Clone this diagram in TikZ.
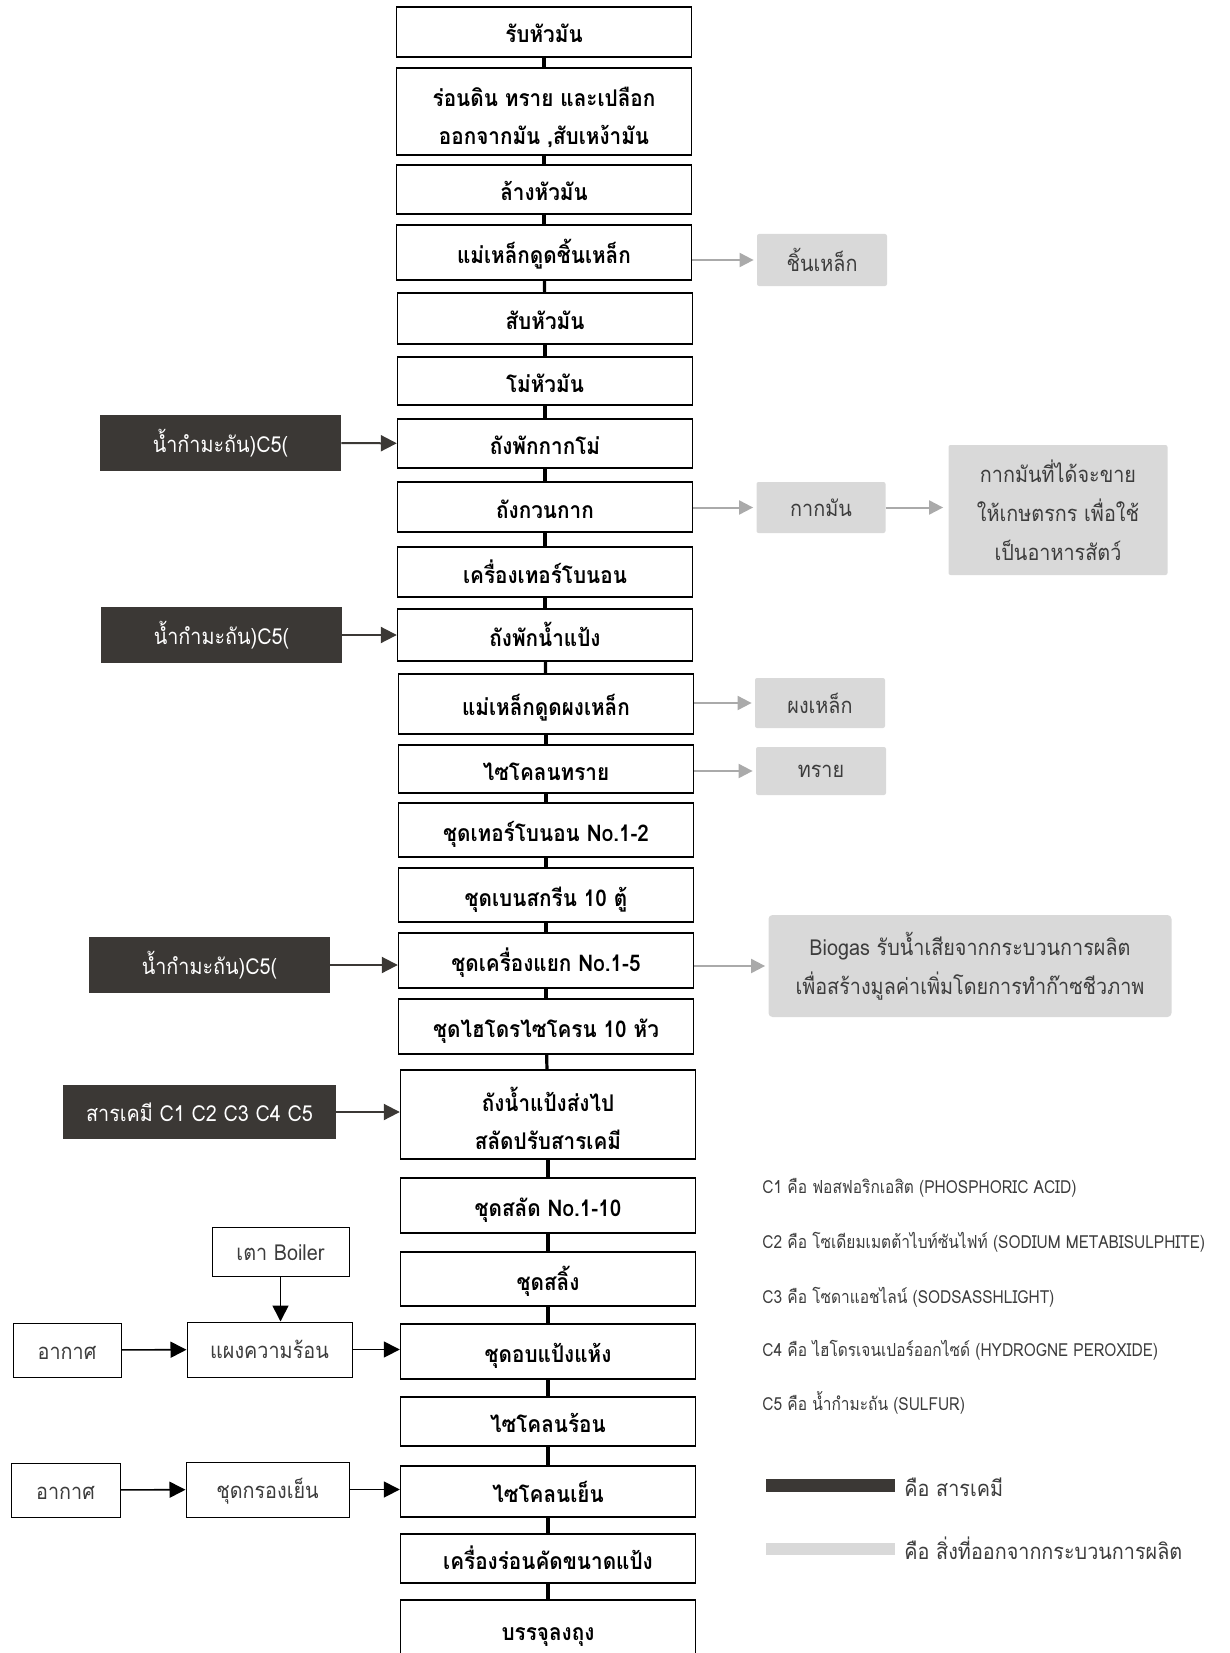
\documentclass[tikz,border=0pt]{standalone}
\usepackage{fontspec}
\setmainfont[Script=Thai, FakeStretch=0.9]{Loma}
\newfontfamily\notefont[Script=Thai, FakeStretch=0.86]{Loma}
\usetikzlibrary{arrows.meta}
\definecolor{chemgray}{RGB}{59,56,53}
\definecolor{outgray}{RGB}{217,217,217}
\definecolor{arrowgray}{RGB}{170,170,170}
\definecolor{textgray}{RGB}{60,60,60}
\tikzset{
  stepbox/.style={draw=black, line width=0.7pt, fill=white, minimum width=147.5pt,
    align=center, inner sep=0pt, text height=14pt, text depth=3pt,
    font=\bfseries\fontsize{11.5}{19}\selectfont},
  twostep/.style={stepbox, text height=, text depth=},
  chembox/.style={fill=chemgray, text=white, align=center, inner sep=0pt,
    text height=12pt, text depth=3pt, font=\fontsize{11}{19}\selectfont},
  outbox/.style={fill=outgray, text=textgray, align=center, inner sep=0pt,
    rounded corners=1pt, font=\fontsize{11}{19.5}\selectfont},
  sidebox/.style={draw=black, line width=0.5pt, fill=white, align=center, inner sep=0pt,
    text height=12pt, text depth=3pt, text=textgray, font=\fontsize{11}{19}\selectfont},
  mainline/.style={line width=1.6pt},
  chemarrow/.style={-{Triangle[length=8pt,width=8pt]}, draw=chemgray, fill=chemgray, line width=1pt},
  outarrow/.style={-{Triangle[length=7pt,width=7pt]}, draw=arrowgray, fill=arrowgray, line width=1pt},
  airarrow/.style={-{Triangle[length=8pt,width=8pt]}, line width=0.8pt},
  notetext/.style={anchor=west, inner sep=0pt, text=textgray, font=\notefont\fontsize{9}{12}\selectfont},
}
\begin{document}
\begin{tikzpicture}[x=0.5pt, y=-0.5pt]
\useasboundingbox (0,0) rectangle (1230,1653);

\node[stepbox, minimum height=25pt] (rcv) at (544,32) {รับหัวมัน};
\node[twostep, minimum height=43.5pt] (sieve) at (544,111.5) {\rule{0pt}{16pt}ร่อนดิน ทราย และเปลือก\\ออกจากมัน ,สับเหง้ามัน};
\node[stepbox, minimum height=24.5pt] (wash) at (544,189.5) {ล้างหัวมัน};
\node[stepbox, minimum height=27.5pt] (magA) at (544,252.5) {แม่เหล็กดูดชิ้นเหล็ก};
\node[stepbox, minimum height=25.5pt] (chop) at (545,318.5) {สับหัวมัน};
\node[stepbox, minimum height=24pt] (mill) at (545,381) {โม่หัวมัน};
\node[stepbox, minimum height=24.5pt] (tankA) at (545,443.5) {ถังพักกากโม่};
\node[stepbox, minimum height=25pt] (stir) at (545,507) {ถังกวนกาก};
\node[stepbox, minimum height=25pt] (turbo) at (545,572) {เครื่องเทอร์โบนอน};
\node[stepbox, minimum height=26pt] (tankB) at (545,635) {ถังพักน้ำแป้ง};
\node[stepbox, minimum height=30pt] (magB) at (546,704) {แม่เหล็กดูดผงเหล็ก};
\node[stepbox, minimum height=24pt] (cycA) at (546,769) {ไซโคลนทราย};
\node[stepbox, minimum height=27pt] (turboset) at (546,830) {ชุดเทอร์โบนอน No.1-2};
\node[stepbox, minimum height=27pt] (screen) at (546,895) {ชุดเบนสกรีน 10 ตู้};
\node[stepbox, minimum height=27.5pt] (sep) at (546,960.5) {ชุดเครื่องแยก No.1-5};
\node[stepbox, minimum height=27.5pt] (hydro) at (546,1026.5) {ชุดไฮโดรไซโครน 10 หัว};
\node[twostep, minimum height=44.5pt] (tankC) at (548,1114.5) {\rule{0pt}{16pt}ถังน้ำแป้งส่งไป\\สลัดปรับสารเคมี};
\node[stepbox, minimum height=27.5pt] (spin) at (548,1205.5) {ชุดสลัด No.1-10};
\node[stepbox, minimum height=27pt] (sling) at (548,1279) {ชุดสลิ้ง};
\node[stepbox, minimum height=27.5pt] (dry) at (548,1351.5) {ชุดอบแป้งแห้ง};
\node[stepbox, minimum height=24.5pt] (cycB) at (548,1421.5) {ไซโคลนร้อน};
\node[stepbox, minimum height=25.5pt] (cycC) at (548,1491.5) {ไซโคลนเย็น};
\node[stepbox, minimum height=24.5pt] (grade) at (548,1558.5) {เครื่องร่อนคัดขนาดแป้ง};
\node[stepbox, minimum height=29pt] (pack) at (548,1629) {บรรจุลงถุง};

\foreach \a/\b in {rcv/sieve, sieve/wash, wash/magA, magA/chop, chop/mill, mill/tankA,
  tankA/stir, stir/turbo, turbo/tankB, tankB/magB, magB/cycA, cycA/turboset,
  turboset/screen, screen/sep, sep/hydro, hydro/tankC, tankC/spin, spin/sling,
  sling/dry, dry/cycB, cycB/cycC, cycC/grade, grade/pack}
  \draw[mainline] (\a) -- (\b);

\node[chembox, minimum width=120.5pt, minimum height=28pt] (sulfA) at (220.5,443) {น้ำกำมะถัน)C5(};
\node[chembox, minimum width=120.5pt, minimum height=28pt] (sulfB) at (221.5,635) {น้ำกำมะถัน)C5(};
\node[chembox, minimum width=120.5pt, minimum height=28pt] (sulfC) at (209.5,965) {น้ำกำมะถัน)C5(};
\node[chembox, minimum width=136.5pt, minimum height=27pt] (chem) at (199.5,1112) {สารเคมี C1 C2 C3 C4 C5};
\draw[chemarrow] (sulfA) -- (tankA);
\draw[chemarrow] (sulfB) -- (tankB);
\draw[chemarrow] (sulfC.east) -- (sulfC.east -| sep.west);
\draw[chemarrow] (chem) -- (chem -| tankC.west);

\node[outbox, minimum width=65pt, minimum height=26pt] (ironA) at (822,260) {ชิ้นเหล็ก};
\node[outbox, minimum width=64.5pt, minimum height=25.5pt] (pulp) at (821,507.5) {กากมัน};
\node[outbox, minimum width=109.5pt, minimum height=65pt] (feed) at (1058,510) {กากมันที่ได้จะขาย\\ให้เกษตรกร เพื่อใช้\\เป็นอาหารสัตว์};
\node[outbox, minimum width=65pt, minimum height=25pt] (ironB) at (820,703) {ผงเหล็ก};
\node[outbox, minimum width=65pt, minimum height=24pt] (sand) at (821,771) {ทราย};
\node[outbox, minimum width=201.5pt, minimum height=51pt, rounded corners=2pt] (biogas) at (970,966) {Biogas รับน้ำเสียจากกระบวนการผลิต\\เพื่อสร้างมูลค่าเพิ่มโดยการทำก๊าซชีวภาพ};
\draw[outarrow, shorten >=1.5pt] (magA.east |- ironA) -- (ironA);
\draw[outarrow, shorten >=1.5pt] (stir.east |- pulp) -- (pulp);
\draw[outarrow, shorten >=2.5pt] (pulp) -- (pulp -| feed.west);
\draw[outarrow, shorten >=1.5pt] (magB.east |- ironB) -- (ironB);
\draw[outarrow, shorten >=1.5pt] (cycA.east |- sand) -- (sand);
\draw[outarrow, shorten >=1.5pt] (sep.east |- biogas) -- (biogas);

\node[sidebox, minimum width=68.5pt, minimum height=24.5pt] (boiler) at (280.5,1251.5) {เตา Boiler};
\node[sidebox, minimum width=54pt, minimum height=27pt] (airA) at (67,1350) {อากาศ};
\node[sidebox, minimum width=82.5pt, minimum height=27.5pt] (heat) at (269.5,1349.5) {แผงความร้อน};
\node[sidebox, minimum width=54.5pt, minimum height=27pt] (airB) at (65.5,1490) {อากาศ};
\node[sidebox, minimum width=81.5pt, minimum height=27.5pt] (cool) at (267.5,1489.5) {ชุดกรองเย็น};
\draw[airarrow] (boiler.south) -- (boiler.south |- heat.north);
\draw[airarrow] (airA) -- (heat);
\draw[airarrow] (heat) -- (heat -| dry.west);
\draw[airarrow] (airB) -- (cool);
\draw[airarrow] (cool) -- (cool -| cycC.west);

\node[notetext] (noteA) at (762,1188) {C1 คือ ฟอสฟอริกเอสิต (PHOSPHORIC ACID)};
\node[notetext] (noteB) at (762,1242) {C2 คือ โซเดียมเมตต้าไบท์ซันไฟท์ (SODIUM METABISULPHITE)};
\node[notetext] (noteC) at (762,1297) {C3 คือ โซดาแอชไลน์ (SODSASSHLIGHT)};
\node[notetext] (noteD) at (762,1350) {C4 คือ ไฮโดรเจนเปอร์ออกไซด์ (HYDROGNE PEROXIDE)};
\node[notetext] (noteE) at (762,1403) {C5 คือ น้ำกำมะถัน (SULFUR)};

\fill[chemgray] (766,1479) rectangle (895,1492);
\fill[outgray] (766,1543) rectangle (895,1555);
\node[notetext, font=\fontsize{11}{13}\selectfont] (keyA) at (904,1487) {คือ สารเคมี};
\node[notetext, font=\fontsize{11}{13}\selectfont] (keyB) at (904,1548) {คือ สิ่งที่ออกจากกระบวนการผลิต};
\end{tikzpicture}
\end{document}
